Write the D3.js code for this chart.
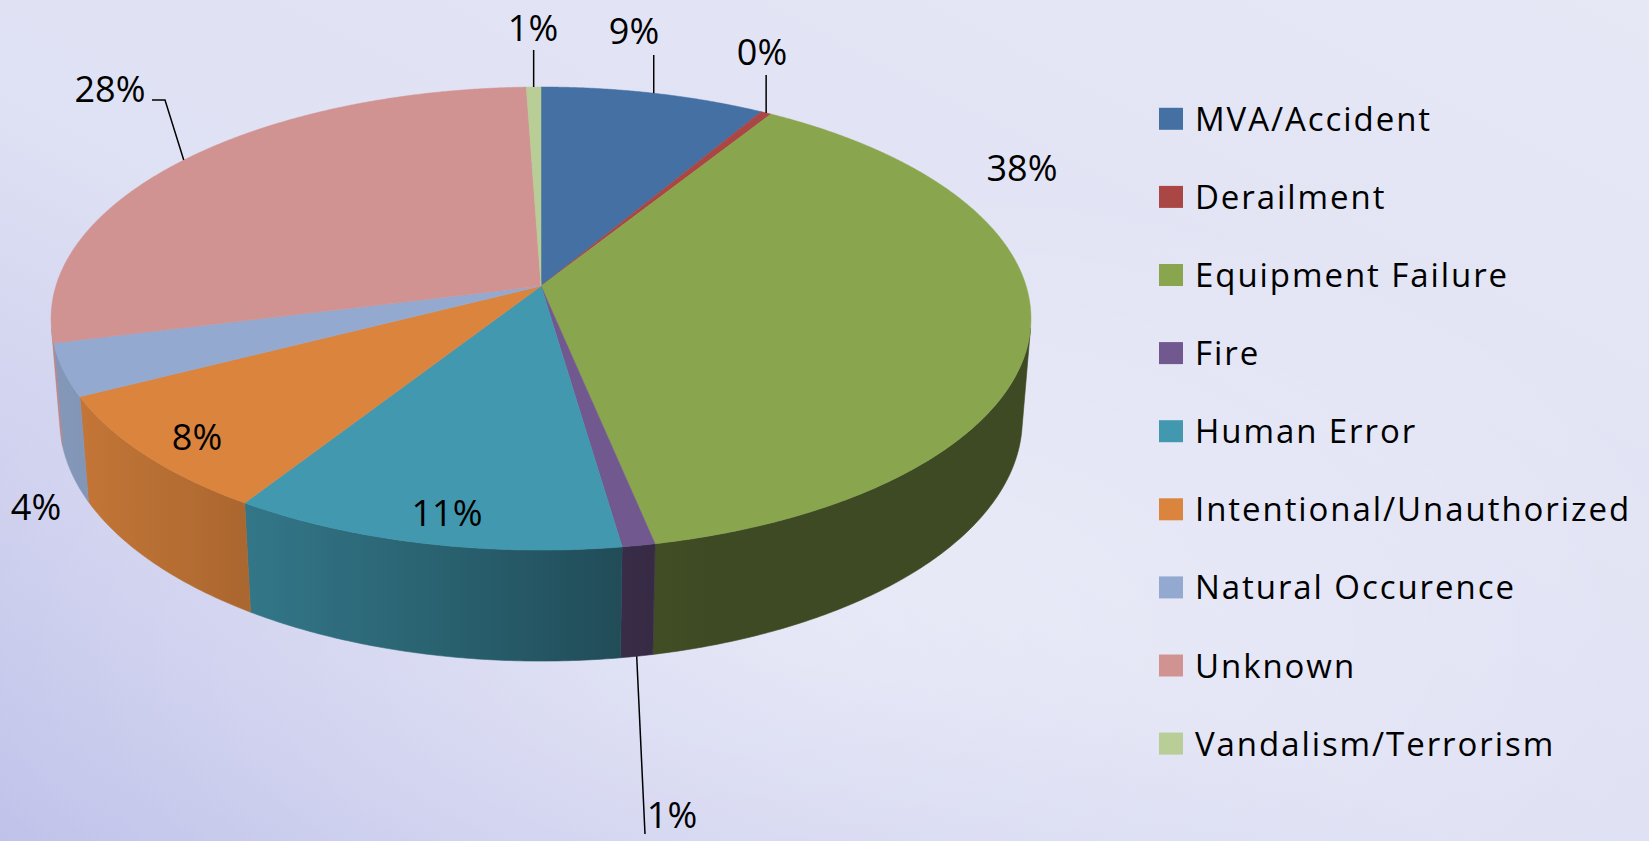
<!DOCTYPE html>
<html><head><meta charset="utf-8">
<script src="https://cdn.jsdelivr.net/npm/d3@7"></script>
<style>html,body{margin:0;padding:0;overflow:hidden;background:#e2e4f5}</style>
</head>
<body>
<svg id="chart" width="1649" height="841"></svg>
<script>
// ---- data ----
const categories = ["MVA/Accident","Derailment","Equipment Failure","Fire","Human Error","Intentional/Unauthorized","Natural Occurence","Unknown","Vandalism/Terrorism"];
const values = [8.5, 0.4, 37.85, 0.95, 11.35, 8.4, 3.65, 28.35, 0.55];
const colors = ["#4470A4","#AA4643","#89A54E","#71588F","#4198AF","#DB843D","#93A9CF","#D19392","#B9CD96"];

// ---- layout (not data) ----
const W = 1649, H = 841;
const cam = {cx: 541, cy: 286, F: 485.1, r: 0.159, th: Math.asin(0.4679), depth: 0.238};
const labelPos = [
  {x: 634, y: 44, leader: "up", top: 55},
  {x: 762, y: 65, leader: "up", top: 75},
  {x: 1022, y: 181},
  {x: 672, y: 828, leader: "down"},
  {x: 447, y: 526},
  {x: 197, y: 450},
  {x: 36, y: 520},
  {x: 110, y: 102, leader: "elbow"},
  {x: 533, y: 41, leader: "up", top: 50}
];

const svg = d3.select("#chart");
const defs = svg.append("defs");

// background
const bg = defs.append("linearGradient").attr("id","bg").attr("x1","100%").attr("y1","0%").attr("x2","0%").attr("y2","100%");
bg.append("stop").attr("offset","0%").attr("stop-color","#e6e8f6");
bg.append("stop").attr("offset","55%").attr("stop-color","#dfe1f4");
bg.append("stop").attr("offset","100%").attr("stop-color","#c0c2ea");
svg.append("rect").attr("width",W).attr("height",H).attr("fill","url(#bg)");
const glow = defs.append("radialGradient").attr("id","glow").attr("cx","0.5").attr("cy","0.75").attr("r","0.55");
glow.append("stop").attr("offset","0%").attr("stop-color","#ffffff").attr("stop-opacity",0.35);
glow.append("stop").attr("offset","100%").attr("stop-color","#ffffff").attr("stop-opacity",0);
svg.append("rect").attr("width",W).attr("height",H).attr("fill","url(#glow)");

function proj(phi, rho, v) {
  const u = rho * Math.sin(phi), w = -rho * Math.cos(phi);
  const dN = 1 - cam.r * (v * Math.sin(cam.th) + w * Math.cos(cam.th));
  return [cam.cx + cam.F * u / dN, cam.cy - cam.F * (v * Math.cos(cam.th) - w * Math.sin(cam.th)) / dN];
}

const pie = d3.pie().sort(null).value(d => d);
const arcs = pie(values);
const total = d3.sum(values);

const gSide = svg.append("g");
const gTop = svg.append("g");

const visLimit = Math.acos(-cam.r / Math.cos(cam.th));
const step = Math.PI / 360;
const Lx = -Math.cos(15 * Math.PI / 180), Lz = Math.sin(15 * Math.PI / 180);
function shade(base, phi) {
  const dot = Math.sin(phi) * Lx + (-Math.cos(phi)) * Lz;
  const f = 0.45 + 0.445 * Math.max(0, dot);
  const c = d3.rgb(base);
  return d3.rgb(c.r * f, c.g * f, c.b * f).formatHex();
}

// side walls
arcs.forEach((a, i) => {
  const s = Math.max(a.startAngle, visLimit), e = Math.min(a.endAngle, 2 * Math.PI - visLimit);
  if (e <= s) return;
  const n = Math.max(2, Math.ceil((e - s) / step));
  const topPts = [], botPts = [];
  for (let k = 0; k <= n; k++) {
    const p = s + (e - s) * k / n;
    topPts.push(proj(p, 1, 0));
    botPts.push(proj(p, 1, -cam.depth));
  }
  const xs = topPts.map(p => p[0]);
  const x1 = d3.max(xs), x2 = d3.min(xs);
  const gid = "side" + i;
  const grad = defs.append("linearGradient").attr("id", gid).attr("gradientUnits", "userSpaceOnUse")
    .attr("x1", x1).attr("y1", 0).attr("x2", x2 === x1 ? x1 - 1 : x2).attr("y2", 0);
  const ns = 12;
  for (let k = 0; k <= ns; k++) {
    const p = s + (e - s) * k / ns;
    const px = proj(p, 1, -cam.depth / 2)[0];
    const off = x1 === x2 ? 0 : (x1 - px) / (x1 - x2);
    grad.append("stop").attr("offset", Math.min(1, Math.max(0, off))).attr("stop-color", shade(colors[i], p));
  }
  const pts = topPts.concat(botPts.reverse());
  gSide.append("path").attr("d", d3.line()(pts) + "Z").attr("fill", "url(#" + gid + ")")
    .attr("stroke", "url(#" + gid + ")").attr("stroke-width", 0.6);
});

// top faces
arcs.forEach((a, i) => {
  const pts = [proj(0,0,0)];
  const n = Math.max(2, Math.ceil((a.endAngle - a.startAngle) / (step / 2)));
  for (let k = 0; k <= n; k++) pts.push(proj(a.startAngle + (a.endAngle - a.startAngle) * k / n, 1, 0));
  gTop.append("path").attr("d", d3.line()(pts) + "Z").attr("fill", colors[i]).attr("stroke", colors[i]).attr("stroke-width", 0.5);
});

// labels and leaders
const gLab = svg.append("g");
arcs.forEach((a, i) => {
  const lp = labelPos[i];
  const mid = (a.startAngle + a.endAngle) / 2;
  const txt = Math.round(a.data / total * 100) + "%";
  if (lp.leader === "up") {
    const p = proj(mid, 1, 0);
    gLab.append("path").attr("d", d3.line()([[p[0], p[1]], [p[0], lp.top]])).attr("stroke", "#000").attr("stroke-width", 1.5).attr("fill", "none");
  } else if (lp.leader === "elbow") {
    const p = proj(mid, 1, 0);
    gLab.append("path").attr("d", d3.line()([p, [lp.x + 55, lp.y - 2], [lp.x + 42, lp.y - 2]])).attr("stroke", "#000").attr("stroke-width", 1.5).attr("fill", "none");
  } else if (lp.leader === "down") {
    const p = proj(mid, 1, -cam.depth);
    gLab.append("path").attr("d", d3.line()([p, [lp.x - 27, lp.y + 6]])).attr("stroke", "#000").attr("stroke-width", 1.5).attr("fill", "none");
  }
  gLab.append("text").attr("x", lp.x).attr("y", lp.y).attr("text-anchor", "middle")
    .attr("font-family", "'Open Sans', 'Noto Sans', sans-serif").attr("font-size", 36).attr("fill", "#000").text(txt);
});

// legend
const legY0 = 118.8, legDy = 78.1;
const gLeg = svg.append("g");
categories.forEach((c, i) => {
  const y = legY0 + i * legDy;
  gLeg.append("rect").attr("x", 1159).attr("y", y - 11).attr("width", 24).attr("height", 22).attr("fill", colors[i]);
  gLeg.append("text").attr("class","leg").attr("x", 1195).attr("y", y + 12)
    .attr("font-family", "'Open Sans', 'Noto Sans', sans-serif").attr("font-size", 33).attr("fill", "#000").text(c);
});
const longest = gLeg.selectAll("text.leg").nodes()[5];
const wNow = longest.getComputedTextLength();
const ls = (436 - wNow) / categories[5].length;
gLeg.selectAll("text.leg").attr("letter-spacing", ls);
</script>
</body></html>
